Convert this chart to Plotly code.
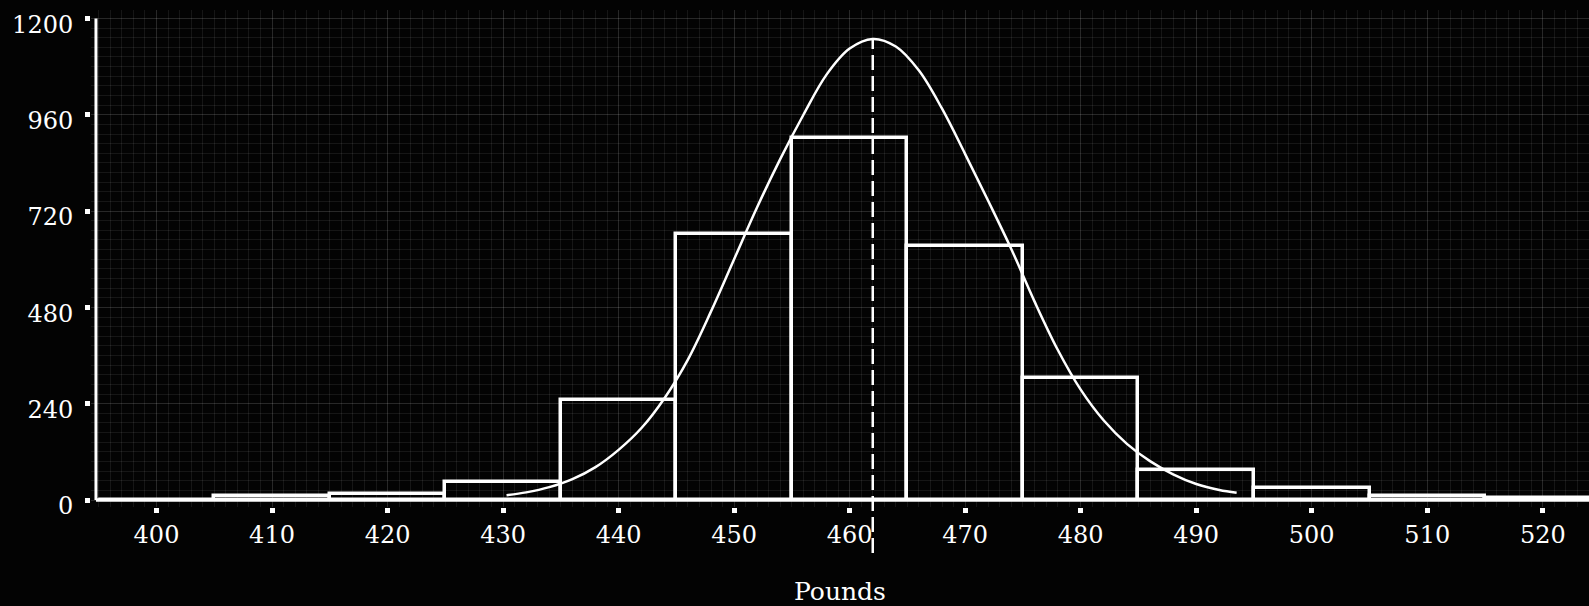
import plotly.graph_objects as go

# ---- data ----
bin_centers = [400, 410, 420, 430, 440, 450, 460, 470, 480, 490, 500, 510, 520]
bin_counts = [0, 9, 15, 45, 250, 663, 903, 632, 304, 75, 30, 10, 5]
bin_width = 10

# fitted curve as drawn on the chart (read every ~2 pounds)
curve_x = [430.3, 432, 434, 436, 438, 440, 442, 444, 446, 448,
           450, 452, 454, 456, 458, 460, 462, 464, 466, 468,
           470, 472, 474, 476, 478, 480, 482, 484, 486, 488,
           490, 492, 493.5]
curve_y = [12, 19, 32, 52, 82, 125, 180, 255, 350, 470,
           600, 730, 850, 960, 1060, 1125, 1149, 1130, 1070, 975,
           862, 745, 625, 495, 375, 275, 198, 140, 97, 64,
           40, 25, 18]

mean_weight = 462.0

x_ticks = [400, 410, 420, 430, 440, 450, 460, 470, 480, 490, 500, 510, 520]
y_ticks = [0, 240, 480, 720, 960, 1200]

# ---- styling / layout constants ----
FONT = "DejaVu Serif, Liberation Serif, serif"
X_RANGE = [394.33, 524.0]
Y_RANGE = [-17.4, 1221]
AXIS_X = 394.76          # where the drawn vertical axis sits
M_L, M_R, M_T, M_B = 91, 0, 10, 99
PLOT_H = 606 - M_T - M_B
BG = "#030303"

def px_to_paper(px_from_top):
    return (606 - M_B - px_from_top) / PLOT_H

def val_to_px(v):
    return M_T + (Y_RANGE[1] - v) * PLOT_H / (Y_RANGE[1] - Y_RANGE[0])

fig = go.Figure()

fig.add_trace(go.Bar(
    x=bin_centers, y=bin_counts, width=bin_width,
    marker=dict(color="rgba(0,0,0,0)", line=dict(color="white", width=3.5)),
    hoverinfo="x+y",
))

fig.add_trace(go.Scatter(
    x=curve_x, y=curve_y, mode="lines",
    line=dict(color="white", width=2.5, shape="spline", smoothing=1.0),
))

grid = "rgba(255,255,255,0.08)"

fig.update_layout(
    width=1589, height=606,
    paper_bgcolor=BG, plot_bgcolor=BG,
    margin=dict(l=M_L, r=M_R, t=M_T, b=M_B),
    showlegend=False,
    bargap=0,
    font=dict(family=FONT, color="white", size=24),
    xaxis=dict(
        range=X_RANGE, tickvals=x_ticks, ticktext=[str(v) for v in x_ticks],
        ticks="outside", ticklen=5, tickwidth=5, tickcolor="white",
        showline=False, zeroline=False,
        showgrid=True, gridcolor=grid, gridwidth=1,
        minor=dict(dtick=1, showgrid=True, gridcolor=grid, gridwidth=1),
        tickfont=dict(family=FONT, size=24, color="white"),
        ticklabelstandoff=1,
        title=dict(text="Pounds", font=dict(family=FONT, size=25, color="white"), standoff=38),
        automargin=False,
    ),
    yaxis=dict(
        range=Y_RANGE, tickvals=y_ticks, ticktext=[str(v) for v in y_ticks],
        ticks="outside", ticklen=5, tickwidth=5, tickcolor="white",
        showline=False, zeroline=False,
        showgrid=True, gridcolor=grid, gridwidth=1,
        minor=dict(dtick=24, showgrid=True, gridcolor=grid, gridwidth=1),
        tickfont=dict(family=FONT, size=24, color="white"),
        ticklabelstandoff=7, ticklabelshift=6,
        automargin=False,
    ),
)

# drawn axes
fig.add_shape(type="line", xref="x", yref="y", x0=AXIS_X, x1=X_RANGE[1], y0=0, y1=0,
              line=dict(color="white", width=3.5))
fig.add_shape(type="line", xref="x", yref="y", x0=AXIS_X, x1=AXIS_X, y0=0, y1=1200,
              line=dict(color="white", width=3))
# dashed mean line, running below the axis
fig.add_shape(type="line", xref="x", yref="paper", x0=mean_weight, x1=mean_weight,
              y0=px_to_paper(553), y1=px_to_paper(val_to_px(max(curve_y))),
              line=dict(color="white", width=2.5, dash="15px,6px"))

fig.write_html(
    "out.html",
    config={"displayModeBar": False},
    post_script="document.body.style.margin='0';document.body.style.background='%s';"
                "document.documentElement.style.background='%s';" % (BG, BG),
)
